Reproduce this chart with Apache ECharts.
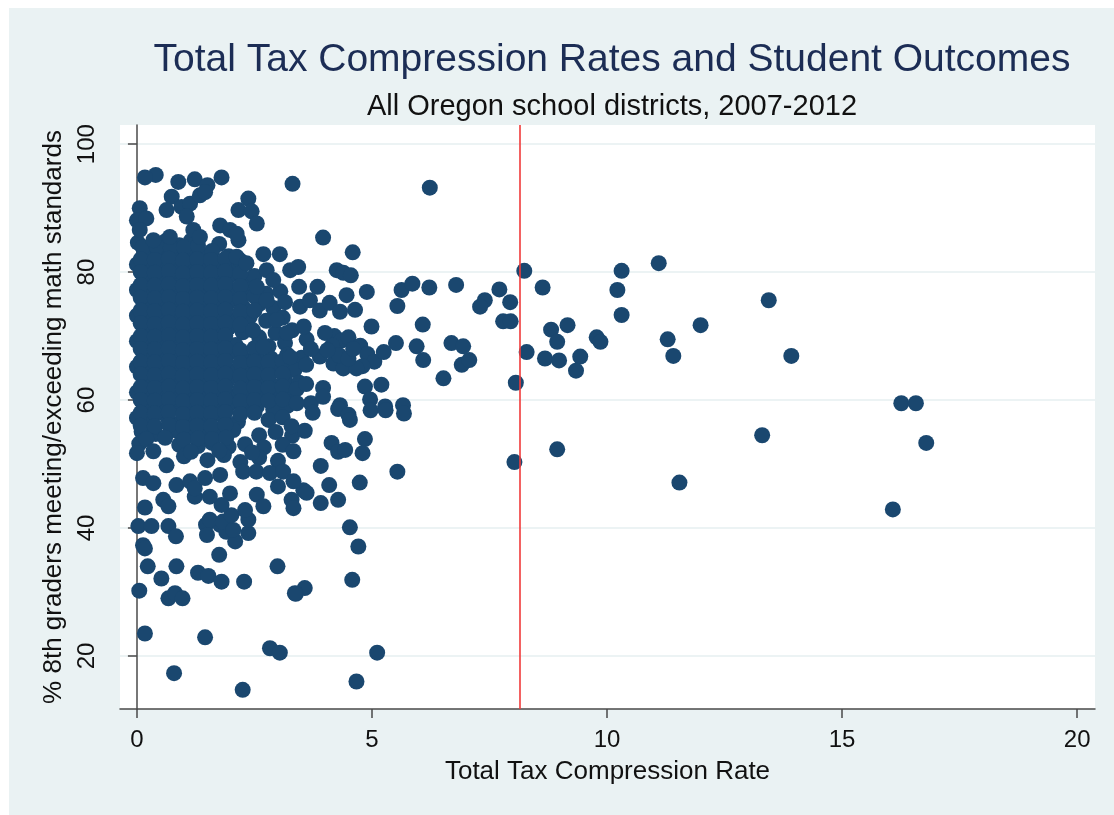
<!DOCTYPE html>
<html>
<head>
<meta charset="utf-8">
<script src="https://cdn.jsdelivr.net/npm/echarts@6/dist/echarts.min.js"></script>
<style>
  html, body { margin: 0; padding: 0; background: #ffffff; }
  #chart { position: absolute; left: 9px; top: 8px; width: 1105px; height: 807px; }
</style>
</head>
<body>
<div id="chart"></div>
<script>
// District observations: [total tax compression rate, % 8th graders meeting/exceeding math]
// Dense block of districts with low compression
const denseCore = [
  [0.02,84.6],[0.3,84.1],[0.6,84.8],[0.9,84.2],[1.15,84.9],[1.75,84.4],
  [0.15,82.8],[0.45,83.2],[0.75,82.6],[1.05,83.1],[1.35,82.7],[1.6,83.3],[1.95,82.5],
  [0.0,81.2],[0.3,80.8],[0.6,81.3],[0.9,80.7],[1.2,81.1],[1.5,80.6],[1.8,81.2],[2.05,80.4],
  [0.15,79.1],[0.45,78.8],[0.75,79.3],[1.05,78.7],[1.35,79.2],[1.65,78.9],[1.95,79.3],[2.25,78.6],[2.5,79.4],
  [0.0,77.2],[0.3,76.9],[0.6,77.3],[0.9,76.8],[1.2,77.1],[1.5,76.7],[1.8,77.4],[2.1,76.9],[2.4,77.2],[2.75,76.6],[3.05,77.0],
  [0.15,75.1],[0.45,74.8],[0.75,75.3],[1.05,74.7],[1.35,75.2],[1.65,74.9],[1.95,75.3],[2.25,74.6],[2.6,75.0],[2.9,74.4],[3.15,75.3],
  [0.0,73.2],[0.3,72.8],[0.6,73.3],[0.9,72.7],[1.2,73.1],[1.5,72.8],[1.8,73.3],[2.1,72.6],[2.4,73.0],[2.75,72.4],[3.1,72.9],
  [0.15,71.1],[0.45,70.8],[0.75,71.3],[1.05,70.7],[1.35,71.2],[1.65,70.9],[1.95,71.3],[2.25,70.6],[2.95,70.5],[3.3,70.9],
  [0.0,69.2],[0.3,68.8],[0.6,69.3],[0.9,68.7],[1.2,69.1],[1.5,68.8],[1.8,69.3],[2.1,68.6],[2.8,68.4],[3.15,68.9],
  [0.15,67.1],[0.45,66.8],[0.75,67.3],[1.05,66.7],[1.35,67.2],[1.65,66.9],[1.95,67.3],[2.25,66.6],[2.55,67.0],[2.85,66.5],[3.2,67.1],[3.5,66.6],
  [0.0,65.2],[0.3,64.8],[0.6,65.3],[0.9,64.7],[1.2,65.1],[1.5,64.8],[1.8,65.3],[2.1,64.6],[2.4,65.0],[2.7,64.5],[3.0,65.2],[3.35,64.7],
  [0.15,63.1],[0.45,62.8],[0.75,63.3],[1.05,62.7],[1.35,63.2],[1.65,62.9],[1.95,63.3],[2.25,62.6],[2.55,63.0],[2.85,62.5],[3.15,63.1],[3.45,62.7],
  [0.0,61.2],[0.3,60.8],[0.6,61.3],[0.9,60.7],[1.2,61.1],[1.5,60.8],[1.8,61.3],[2.1,60.6],[2.4,61.0],[2.7,60.5],[3.0,61.1],[3.3,60.6],
  [0.15,59.1],[0.45,58.8],[0.75,59.3],[1.05,58.7],[1.35,59.2],[1.65,58.9],[1.95,59.3],[2.25,58.6],[2.55,59.0],[2.9,58.5],[3.2,59.1],
  [0.0,57.2],[0.3,56.8],[0.65,57.3],[0.95,56.7],[1.25,57.1],[1.55,56.8],[1.85,57.3],[2.15,56.6],[2.8,56.9],[3.1,57.3],
  [0.1,55.1],[0.4,54.7],[0.85,55.2],[1.15,54.6],[1.45,55.1],[1.75,54.8],[2.05,55.3],[2.6,54.5],[2.95,55.0],[3.3,54.4],
  [0.05,53.2],[0.9,53.0],[1.3,52.8],[1.6,53.3],[1.95,52.7],[2.3,53.1],[2.7,52.6],[3.1,53.0],
  [0.0,51.7],[0.63,49.8],[1.0,51.2],[1.5,50.6],[1.85,51.4],[2.2,50.3],[2.6,51.0],[3.0,50.5]
];

// More districts packed in between the rows of the block
const denseCoreFill = [
  [0.12,83.9],[0.42,84.0],[0.72,83.8],[1.0,83.9],[1.3,84.1],
  [0.08,82.0],[0.38,81.9],[0.68,82.1],[0.98,81.8],[1.28,82.0],[1.58,81.9],[1.88,82.1],[2.2,81.8],
  [0.08,80.0],[0.38,79.9],[0.68,80.1],[0.98,79.8],[1.28,80.0],[1.58,79.9],[1.88,80.1],[2.2,79.8],
  [0.08,78.0],[0.38,77.9],[0.68,78.1],[0.98,77.8],[1.28,78.0],[1.58,77.9],[1.88,78.1],[2.2,77.8],
  [0.08,76.0],[0.38,75.9],[0.68,76.1],[0.98,75.8],[1.28,76.0],[1.58,75.9],[1.88,76.1],[2.2,75.8],[2.5,76.2],
  [0.08,74.0],[0.38,73.9],[0.68,74.1],[0.98,73.8],[1.28,74.0],[1.58,73.9],[1.88,74.1],[2.2,73.8],[2.5,74.0],
  [0.08,72.0],[0.38,71.9],[0.68,72.1],[0.98,71.8],[1.28,72.0],[1.58,71.9],[1.88,72.1],[2.2,71.8],
  [0.08,70.0],[0.38,69.9],[0.68,70.1],[0.98,69.8],[1.28,70.0],[1.58,69.9],[1.88,70.1],[2.6,69.8],
  [0.08,68.0],[0.38,67.9],[0.68,68.1],[0.98,67.8],[1.28,68.0],[1.58,67.9],[1.88,68.1],[2.2,67.8],[2.5,68.1],
  [0.08,66.0],[0.38,65.9],[0.68,66.1],[0.98,65.8],[1.28,66.0],[1.58,65.9],[1.88,66.1],[2.2,65.8],[2.5,66.0],[2.8,65.9],[3.1,66.1],
  [0.08,64.0],[0.38,63.9],[0.68,64.1],[0.98,63.8],[1.28,64.0],[1.58,63.9],[1.88,64.1],[2.2,63.8],[2.5,64.0],[2.8,63.9],[3.1,64.1],
  [0.08,62.0],[0.38,61.9],[0.68,62.1],[0.98,61.8],[1.28,62.0],[1.58,61.9],[1.88,62.1],[2.2,61.8],[2.5,62.0],[2.8,61.9],[3.1,62.1],[3.4,61.7],
  [0.08,60.0],[0.38,59.9],[0.68,60.1],[0.98,59.8],[1.28,60.0],[1.58,59.9],[1.88,60.1],[2.2,59.8],[2.5,60.0],[2.8,59.9],[3.1,60.1],
  [0.08,58.0],[0.38,57.9],[0.68,58.1],[0.98,57.8],[1.28,58.0],[1.58,57.9],[1.88,58.1],[2.2,57.8],[2.5,58.0],
  [0.08,56.0],[0.38,55.9],[0.68,56.1],[0.98,55.8],[1.28,56.0],[1.58,55.9],[1.88,56.1],
  [0.2,53.9],[0.6,54.1],[1.0,53.8],[1.3,54.0],[1.6,53.9],[1.9,54.1],
  [0.35,52.0],[1.15,51.9],[1.75,52.1],[2.45,51.8]
];

// Districts above the block (high scores, low compression)
const upperSpread = [
  [0.40,95.2],[0.17,94.8],[0.88,94.1],[1.23,94.5],[1.5,93.6],[1.8,94.8],[3.31,93.8],
  [0.06,90.0],[0.0,88.1],[0.2,88.4],[0.06,86.6],[0.74,91.8],[0.63,89.7],[0.95,90.2],[1.13,90.7],
  [1.34,92.0],[1.45,92.5],[2.37,91.5],[2.16,89.7],[2.44,89.5],[2.55,87.6],[1.77,87.3],[1.98,86.6],
  [2.16,85.0],[2.12,86.0],[1.06,88.7],[1.2,86.6],[1.34,85.5],[0.7,85.5],[0.35,85.0],
  [2.12,82.4],[2.33,81.4],[2.69,82.8],[3.04,82.8],[2.76,80.3],[2.9,78.75],[3.26,80.3],[3.43,80.8],
  [3.45,77.7],[2.55,77.7],[2.76,75.6],[2.47,70.9],[2.69,68.3],[2.97,72.5],[3.19,70.5],[3.26,66.7]
];

// Districts with compression between about 3.3 and 7
const middleSpread = [
  [3.96,85.4],[4.59,83.1],[4.25,80.3],[4.39,79.9],[4.55,79.5],[3.84,77.7],[4.89,76.9],[5.63,77.2],
  [5.86,78.2],[6.22,77.6],[6.79,78.0],[5.54,74.7],[4.46,76.4],
  [3.47,74.6],[3.68,75.6],[3.89,74.0],[4.1,75.2],[4.32,73.8],[4.64,74.1],
  [4.99,71.5],[6.08,71.8],[3.61,69.5],[5.51,68.9],[5.95,68.4],[6.09,66.25],[6.69,68.9],[6.94,68.4],
  [6.91,65.5],[7.07,66.25],[6.52,63.4],
  [4.2,70.0],[4.35,69.3],[4.5,69.8],[4.75,68.5],[4.9,67.2],[5.05,66.0],[5.25,67.5],[4.8,65.3],
  [3.89,66.8],[4.18,65.7],[4.39,64.95],[4.67,64.95],
  [4.0,70.5],[4.15,68.5],[4.3,67.0],[4.05,67.8],[4.5,66.5],[4.6,68.0],
  [3.55,71.5],[3.7,68.0],[3.6,65.5],[3.6,62.5],[3.7,59.5],
  [4.85,62.1],[5.2,62.4],[3.96,61.9],[3.96,60.5],[4.96,60.1],[5.66,59.2],[4.32,59.2],[5.28,59.0],
  [3.4,59.5],[3.74,58.0],[4.28,58.6],[4.5,57.7],[4.53,56.9],[4.97,58.4],[5.29,58.4],[5.68,57.9],
  [3.57,55.2],[3.29,55.9],[4.14,53.3],[4.28,51.9],[4.43,52.2],[4.85,53.9],[4.8,51.7],[5.54,48.8],
  [3.91,49.7],[3.54,45.9],[3.61,45.5],[4.09,46.7],[4.74,47.1],[3.29,44.4],[3.91,43.9],[4.28,44.4],
  [4.53,40.1],[4.71,37.1],[4.58,31.9],[3.57,30.6],[3.38,29.7],[5.11,20.5],[4.67,16.0]
];

// Districts below the block (low scores, low compression)
const lowerSpread = [
  [0.17,23.5],[1.45,22.9],[2.83,21.2],[3.04,20.5],[0.79,17.3],[2.25,14.7],[0.05,30.2],[0.67,29.0],
  [0.81,29.8],[0.97,29.0],[0.52,32.1],[0.23,34.0],[0.84,34.0],[1.3,33.0],[1.52,32.5],[1.8,31.6],
  [2.28,31.6],[2.99,34.0],[3.36,29.8],[1.75,35.8],[0.13,37.3],[0.17,36.8],[0.03,40.3],[0.31,40.3],
  [0.67,40.3],[0.83,38.7],[1.47,40.5],[1.49,38.9],[1.77,40.5],[1.9,39.4],[2.09,37.9],[2.37,39.2],
  [2.37,41.3],[0.17,43.2],[0.56,44.4],[0.67,43.4],[1.55,41.3],[1.83,41.0],[2.05,39.7],[2.01,42.0],
  [2.3,42.8],[1.98,45.4],[1.8,43.6],[1.23,44.9],[1.55,44.9],[2.55,45.2],[2.69,43.4],[0.84,46.7],
  [0.13,47.8],[0.35,47.0],[1.13,47.3],[1.23,46.2],[1.45,47.8],[1.77,48.3],[2.26,48.8],[2.54,48.8],
  [2.83,48.6],[3.11,48.8],[3.33,47.3],[3.33,43.1],[3.0,46.5],[3.33,52.0]
];

// Districts with high compression
const highRate = [
  [6.23,93.2],[7.71,77.3],[7.40,75.6],[7.30,74.6],[7.94,75.3],[7.79,72.3],[7.95,72.3],[8.24,80.2],
  [8.63,77.6],[8.81,71.0],[9.16,71.7],[8.94,69.1],[8.29,67.5],[8.68,66.5],[8.98,66.2],[9.43,66.8],
  [9.34,64.6],[9.78,69.8],[9.86,69.1],[8.06,62.7],[10.31,80.2],[10.22,77.2],[10.31,73.3],[11.1,81.4],
  [11.29,69.5],[11.41,66.9],[11.99,71.7],[13.44,75.6],[13.92,66.9],[13.30,54.5],[8.03,50.3],[8.94,52.3],
  [11.54,47.1],[16.26,59.5],[16.57,59.5],[16.79,53.3],[16.08,42.9]
];

// Reference compression rate marked with a vertical line
const thresholdRate = 8.14;

const xTickValues = [0, 5, 10, 15, 20];
const yTickValues = [20, 40, 60, 80, 100];

const allPoints = denseCore.concat(denseCoreFill, upperSpread, middleSpread, lowerSpread, highRate);

const FONT = '"Liberation Sans", Arial, Helvetica, sans-serif';
const chart = echarts.init(document.getElementById('chart'), null, { renderer: 'canvas' });

chart.setOption({
  backgroundColor: '#EAF2F3',
  animation: false,
  title: [
    {
      text: 'Total Tax Compression Rates and Student Outcomes',
      left: 598, top: 28, textAlign: 'center',
      textStyle: { fontFamily: FONT, fontSize: 39, fontWeight: 'normal', color: '#1C2D55' }
    },
    {
      text: 'All Oregon school districts, 2007-2012',
      left: 598, top: 79, textAlign: 'center',
      textStyle: { fontFamily: FONT, fontSize: 29, fontWeight: 'normal', color: '#111111' }
    }
  ],
  grid: {
    left: 111, right: 19, top: 117, bottom: 106,
    show: true, backgroundColor: '#ffffff', borderWidth: 0
  },
  xAxis: {
    type: 'value',
    min: -0.36, max: 20.38,
    name: 'Total Tax Compression Rate',
    nameLocation: 'middle', nameGap: 50,
    nameTextStyle: { fontFamily: FONT, fontSize: 26, color: '#111111' },
    axisLine: { show: true, lineStyle: { color: '#4a4a4a', width: 1.5 } },
    axisTick: { show: true, inside: false, length: 9, customValues: xTickValues,
                lineStyle: { color: '#4a4a4a', width: 1.5 } },
    axisLabel: { customValues: xTickValues, margin: 19,
                 fontFamily: FONT, fontSize: 24, color: '#111111' },
    splitLine: { show: false }
  },
  yAxis: {
    type: 'value',
    min: 11.7, max: 103,
    name: '% 8th graders meeting/exceeding math standards',
    nameLocation: 'middle', nameGap: 47, nameRotate: 90,
    nameTextStyle: { fontFamily: FONT, fontSize: 26, color: '#111111' },
    axisLine: { show: true, lineStyle: { color: '#4a4a4a', width: 1.5 } },
    axisTick: { show: true, inside: false, length: 9, customValues: yTickValues,
                lineStyle: { color: '#4a4a4a', width: 1.5 } },
    axisLabel: { customValues: yTickValues, rotate: 90, margin: 21,
                 fontFamily: FONT, fontSize: 24, color: '#111111' },
    splitLine: { show: true, lineStyle: { color: '#E6EFF1', width: 1.5 } }
  },
  series: [
    {
      type: 'scatter',
      data: allPoints,
      symbol: 'circle',
      symbolSize: 16,
      itemStyle: { color: '#1A476F', opacity: 1 },
      markLine: {
        silent: true,
        symbol: 'none',
        label: { show: false },
        lineStyle: { color: '#F03A3A', width: 1.6, type: 'solid' },
        data: [{ xAxis: thresholdRate }]
      }
    }
  ]
});
</script>
</body>
</html>
